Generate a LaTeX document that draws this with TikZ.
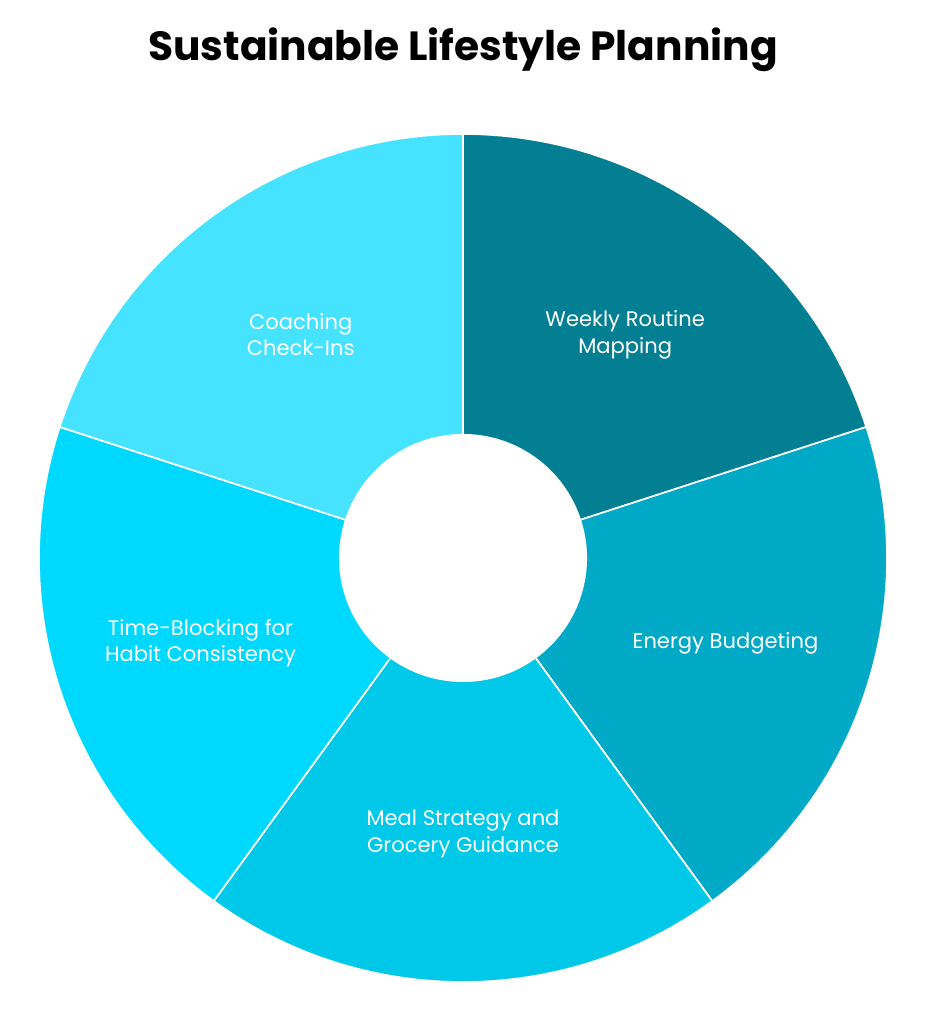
\documentclass[tikz,border=0pt]{standalone}
\usepackage{fontspec}
\setmainfont{Poppins}
\usetikzlibrary{calc}
\definecolor{segA}{HTML}{027F93}
\definecolor{segB}{HTML}{00A9C6}
\definecolor{segC}{HTML}{00C8E8}
\definecolor{segD}{HTML}{00D9FF}
\definecolor{segE}{HTML}{45E3FF}
\def\outerr{10.6}
\def\innerr{3.08}
\tikzset{seglabel/.style={align=center,text=white,font=\fontsize{15}{19}\selectfont}}
\begin{document}
\begin{tikzpicture}
	\useasboundingbox (0,0) rectangle (23.2,25.6);
	\coordinate (c) at (11.575,11.65);
	\node[font=\fontsize{29}{34}\selectfont\bfseries] (title) at (11.575,24.35) {Sustainable Lifestyle Planning};
	
	\foreach \start/\col/\name in {90/segA/weekly,18/segB/energy,-54/segC/meal,-126/segD/timeblock,-198/segE/coaching}{
		\fill[\col,draw=white,line width=1.2pt] ($(c)+(\start:\outerr)$) arc (\start:\start-72:\outerr)
			-- ($(c)+(\start-72:\innerr)$) arc (\start-72:\start:\innerr) -- cycle;
	}
	\fill[white] (c) circle (\innerr);
	
	\node[seglabel] (weekly) at ($(c)+(54:6.9)$) {Weekly Routine\\Mapping};
	\node[seglabel] (energy) at ($(c)+(-18:6.9)$) {Energy Budgeting};
	\node[seglabel] (meal) at ($(c)+(-90:6.9)$) {Meal Strategy and\\Grocery Guidance};
	\node[seglabel] (timeblock) at ($(c)+(-162:6.9)$) {Time-Blocking for\\Habit Consistency};
	\node[seglabel] (coaching) at ($(c)+(126:6.9)$) {Coaching\\Check-Ins};
	
\end{tikzpicture}
\end{document}
